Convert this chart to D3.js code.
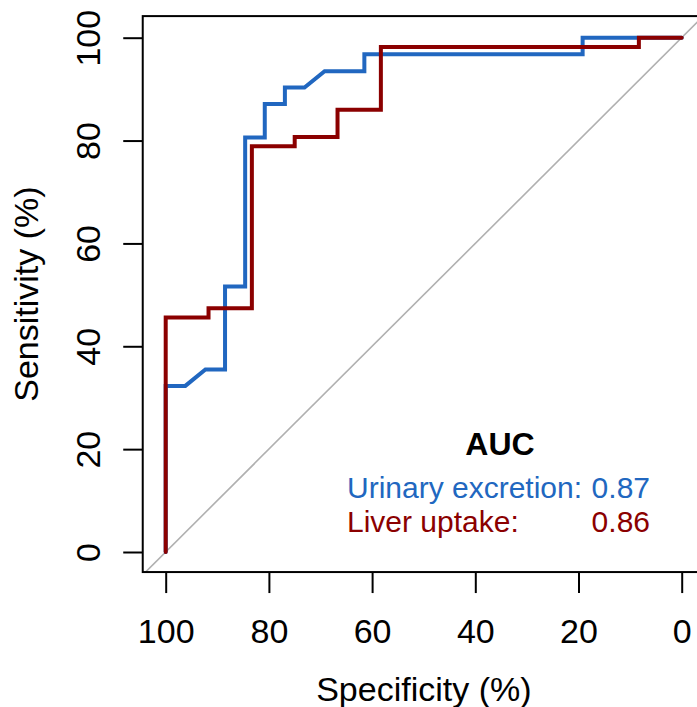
<!DOCTYPE html>
<html>
<head>
<meta charset="utf-8">
<script src="https://cdn.jsdelivr.net/npm/d3@7"></script>
<style>
  html, body { margin: 0; padding: 0; background: #fff; }
  svg text { font-family: 'Liberation Sans', Arial, Helvetica, sans-serif; }
</style>
</head>
<body>
<div id="roc"></div>
<script>
// tick values (both axes)
const tickValues = [0, 20, 40, 60, 80, 100];

// urinary excretion ROC vertices (specificity %, sensitivity %)
const urinarySpec = [100, 100, 96.2, 92.3, 88.5, 88.5, 84.6, 84.6, 80.8, 80.8, 76.9, 76.9, 73.1, 69.2, 61.5, 61.5, 19.2, 19.2, 0];
const urinarySens = [0, 32.3, 32.3, 35.5, 35.5, 51.6, 51.6, 80.6, 80.6, 87.1, 87.1, 90.3, 90.3, 93.5, 93.5, 96.8, 96.8, 100, 100];

// liver uptake ROC vertices
const liverSpec = [100, 100, 91.7, 91.7, 83.3, 83.3, 75, 75, 66.7, 66.7, 58.3, 58.3, 8.3, 8.3, 0];
const liverSens = [0, 45.6, 45.6, 47.4, 47.4, 78.9, 78.9, 80.7, 80.7, 86.0, 86.0, 98.2, 98.2, 100, 100];

// legend
const aucTitle = 'AUC';
const aucLabels = ['Urinary excretion:', 'Liver uptake:'];
const aucValues = ['0.87', '0.86'];

const colors = ['#2167c0', '#8b0000'];

const width = 697;
const height = 707;
const axisFont = 34;
const legendFont = 30;

const svg = d3.select('#roc')
  .append('svg')
  .attr('width', width)
  .attr('height', height);

/**
 * Scales (x is reversed, like pROC)
 */
const x = d3.scaleLinear().domain([100, 0]).range([165.7, 681.7]);
const y = d3.scaleLinear().domain([0, 100]).range([552, 37.7]);

// plot region a bit larger than the data range
const box = {
  left: x(104.45), right: x(-4.5), top: y(104.2), bottom: y(-3.9),
};

svg.append('defs')
  .append('clipPath')
  .attr('id', 'plotClip')
  .append('rect')
  .attr('x', box.left)
  .attr('y', box.top)
  .attr('width', box.right - box.left)
  .attr('height', box.bottom - box.top);

const plot = svg.append('g').attr('clip-path', 'url(#plotClip)');

// identity line
plot.append('line')
  .attr('x1', x(110)).attr('y1', y(-10))
  .attr('x2', x(-10)).attr('y2', y(110))
  .style('stroke', '#b0b0b0')
  .style('stroke-width', 1.6);

/**
 * ROC curves
 */
const line = d3.line()
  .x((d) => x(d[0]))
  .y((d) => y(d[1]));

const curves = [
  d3.zip(urinarySpec, urinarySens),
  d3.zip(liverSpec, liverSens),
];

plot.selectAll('rocPath')
  .data(curves)
  .enter()
  .append('path')
  .attr('d', (d) => line(d))
  .style('fill', 'none')
  .style('stroke', (d, i) => colors[i])
  .style('stroke-width', 4)
  .style('stroke-linejoin', 'miter')
  .style('stroke-linecap', 'round');

// box
svg.append('rect')
  .attr('x', box.left)
  .attr('y', box.top)
  .attr('width', box.right - box.left)
  .attr('height', box.bottom - box.top)
  .style('fill', 'none')
  .style('stroke', '#000')
  .style('stroke-width', 2);

/**
 * Axes (R style: ticks outside the box, no axis line)
 */
const xAxis = svg.append('g').attr('transform', `translate(0,${box.bottom})`)
  .call(d3.axisBottom(x).tickValues(tickValues).tickSize(21).tickPadding(0).tickFormat(d3.format('d')));
xAxis.select('.domain').remove();
xAxis.selectAll('line').style('stroke-width', 2);
xAxis.selectAll('text')
  .attr('y', 643 - box.bottom)
  .attr('dy', 0)
  .style('font-size', `${axisFont}px`)
  .style('font-family', "'Liberation Sans', Arial, sans-serif")
  .style('fill', '#000');

const yAxis = svg.append('g').attr('transform', `translate(${box.left},0)`)
  .call(d3.axisLeft(y).tickValues(tickValues).tickSize(19.5).tickFormat(d3.format('d')));
yAxis.select('.domain').remove();
yAxis.selectAll('line').style('stroke-width', 2);
yAxis.selectAll('text')
  .attr('x', null)
  .attr('dy', 0)
  .attr('transform', `translate(${100 - box.left},0) rotate(-90)`)
  .style('text-anchor', 'middle')
  .style('font-size', `${axisFont}px`)
  .style('font-family', "'Liberation Sans', Arial, sans-serif")
  .style('fill', '#000');

// axis titles
svg.append('text')
  .attr('x', (box.left + box.right) / 2)
  .attr('y', 701)
  .style('text-anchor', 'middle')
  .style('font-size', `${axisFont}px`)
  .text('Specificity (%)');

svg.append('text')
  .attr('transform', `translate(38,${(box.top + box.bottom) / 2}) rotate(-90)`)
  .style('text-anchor', 'middle')
  .style('font-size', `${axisFont}px`)
  .text('Sensitivity (%)');

/**
 * AUC legend
 */
svg.append('text')
  .attr('x', 500)
  .attr('y', 455)
  .style('text-anchor', 'middle')
  .style('font-size', '32px')
  .style('font-weight', 'bold')
  .text(aucTitle);

const legendRows = svg.selectAll('legendRow')
  .data(aucLabels)
  .enter()
  .append('g');

legendRows.append('text')
  .attr('x', 347)
  .attr('y', (d, i) => 498 + i * 33.5)
  .style('font-size', `${legendFont}px`)
  .style('fill', (d, i) => colors[i])
  .text((d) => d);

legendRows.append('text')
  .attr('x', 650)
  .attr('y', (d, i) => 498 + i * 33.5)
  .style('text-anchor', 'end')
  .style('font-size', `${legendFont}px`)
  .style('fill', (d, i) => colors[i])
  .text((d, i) => aucValues[i]);
</script>
</body>
</html>
